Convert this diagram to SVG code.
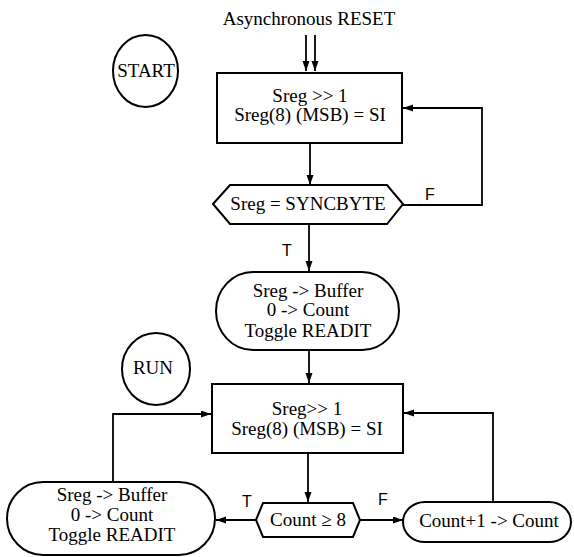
<svg xmlns="http://www.w3.org/2000/svg" width="574" height="557" viewBox="0 0 574 557">
<defs>
<marker id="ah" markerUnits="userSpaceOnUse" markerWidth="11" markerHeight="8" refX="10" refY="3.5" orient="auto">
<path d="M0,0 L10,3.5 L0,7 z" fill="#000"/>
</marker>
</defs>
<style>
.shape{fill:#fff;stroke:#000;stroke-width:2}
.conn{fill:none;stroke:#000;stroke-width:1.8}
.t{font-family:"Liberation Serif","Times New Roman",serif;font-size:19px;fill:#000;text-anchor:middle}
.lab{font-family:"Liberation Sans",Arial,sans-serif;font-size:16px;fill:#000;text-anchor:middle}
</style>
<rect width="574" height="557" fill="#fff"/>
<text class="t" x="309" y="25">Asynchronous RESET</text>
<g id="connectors">
<line class="conn" x1="306" y1="35" x2="306" y2="71" marker-end="url(#ah)"/>
<line class="conn" x1="315" y1="35" x2="315" y2="71" marker-end="url(#ah)"/>
<line class="conn" x1="310" y1="143" x2="310" y2="185" marker-end="url(#ah)"/>
<path class="conn" d="M403,205 H482 V108 H403" marker-end="url(#ah)"/>
<line class="conn" x1="309" y1="224" x2="309" y2="271" marker-end="url(#ah)"/>
<line class="conn" x1="309" y1="350" x2="309" y2="383" marker-end="url(#ah)"/>
<line class="conn" x1="308" y1="453" x2="308" y2="502" marker-end="url(#ah)"/>
<line class="conn" x1="256" y1="520" x2="216" y2="520" marker-end="url(#ah)"/>
<line class="conn" x1="360" y1="520" x2="403" y2="520" marker-end="url(#ah)"/>
<path class="conn" d="M113,482 V414 H211" marker-end="url(#ah)"/>
<path class="conn" d="M493,502 V413 H404" marker-end="url(#ah)"/>
<text class="lab" x="430" y="200">F</text>
<text class="lab" x="287" y="256">T</text>
<text class="lab" x="247" y="507">T</text>
<text class="lab" x="383" y="505">F</text>
</g>
<g id="start">
<ellipse class="shape" cx="145.5" cy="71" rx="32.5" ry="36"/>
<text class="t" x="146" y="77">START</text>
</g>
<g id="shift1">
<rect class="shape" x="217" y="73" width="185" height="70"/>
<text class="t" x="310" y="102">Sreg &gt;&gt; 1</text>
<text class="t" x="310" y="121">Sreg(8) (MSB) = SI</text>
</g>
<g id="sync">
<polygon class="shape" points="213,204 230,185 387,185 403,204 387,224 230,224"/>
<text class="t" x="308" y="210">Sreg = SYNCBYTE</text>
</g>
<g id="buffer1">
<rect class="shape" x="216" y="272" width="183" height="78" rx="37" ry="39"/>
<text class="t" x="308" y="297">Sreg -&gt; Buffer</text>
<text class="t" x="308" y="316">0 -&gt; Count</text>
<text class="t" x="308" y="337">Toggle READIT</text>
</g>
<g id="run">
<ellipse class="shape" cx="156" cy="369" rx="34" ry="36"/>
<text class="t" x="153" y="374">RUN</text>
</g>
<g id="shift2">
<rect class="shape" x="212" y="384" width="191" height="69"/>
<text class="t" x="307" y="415">Sreg&gt;&gt; 1</text>
<text class="t" x="307" y="435">Sreg(8) (MSB) = SI</text>
</g>
<g id="count">
<polygon class="shape" points="256,520 263,503 353,503 360,520 353,537 263,537"/>
<text class="t" x="308" y="526">Count ≥ 8</text>
</g>
<g id="buffer2">
<rect class="shape" x="7" y="482" width="208" height="73" rx="36" ry="36.5"/>
<text class="t" x="112" y="501">Sreg -&gt; Buffer</text>
<text class="t" x="112" y="521">0 -&gt; Count</text>
<text class="t" x="112" y="541">Toggle READIT</text>
</g>
<g id="increment">
<rect class="shape" x="403" y="502" width="168" height="40" rx="22" ry="20"/>
<text class="t" x="489" y="527">Count+1 -&gt; Count</text>
</g>
</svg>
